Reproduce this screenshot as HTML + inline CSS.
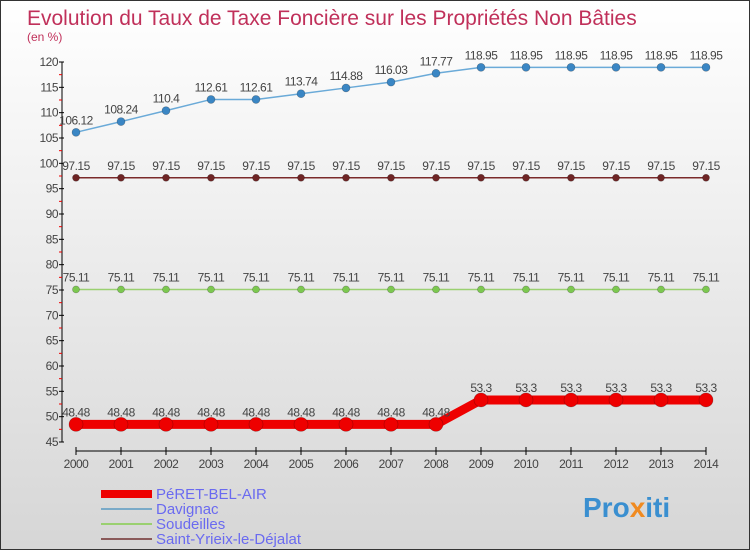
<!DOCTYPE html>
<html><head><meta charset="utf-8"><style>
html,body{margin:0;padding:0}
body{width:750px;height:550px;overflow:hidden;font-family:"Liberation Sans",sans-serif}
#wrap{position:relative;width:748px;height:548px;border:1px solid #333;background:linear-gradient(#ffffff,#d6d6d6)}
svg{position:absolute;left:0;top:0}
</style></head><body>
<div id="wrap">
<svg id="chart" width="750" height="550">
<text x="26" y="24" font-size="21" fill="#c0305a">Evolution du Taux de Taxe Foncière sur les Propriétés Non Bâties</text>
<text x="26" y="40" font-size="12" fill="#c0305a">(en %)</text>
<g id="axes"></g><g id="series"></g><g id="legend"></g>
<text x="582" y="516" font-size="28" font-weight="bold" fill="#3a8fd0">Pro<tspan fill="#f08a20">x</tspan>iti</text>
</svg></div>
<script>
const years=[2000,2001,2002,2003,2004,2005,2006,2007,2008,2009,2010,2011,2012,2013,2014];
const peret=[48.48,48.48,48.48,48.48,48.48,48.48,48.48,48.48,48.48,53.3,53.3,53.3,53.3,53.3,53.3];
const davignac=[106.12,108.24,110.4,112.61,112.61,113.74,114.88,116.03,117.77,118.95,118.95,118.95,118.95,118.95,118.95];
const soudeilles=[75.11,75.11,75.11,75.11,75.11,75.11,75.11,75.11,75.11,75.11,75.11,75.11,75.11,75.11,75.11];
const saint=[97.15,97.15,97.15,97.15,97.15,97.15,97.15,97.15,97.15,97.15,97.15,97.15,97.15,97.15,97.15];
const yTicks=[45,50,55,60,65,70,75,80,85,90,95,100,105,110,115,120];
const seriesNames=["PéRET-BEL-AIR","Davignac","Soudeilles","Saint-Yrieix-le-Déjalat"];
const NS="http://www.w3.org/2000/svg";
const X=i=>75+i*(630/(years.length-1));
const Y=v=>441-(v-45)*(380/75);
function mk(t,a,p){const e=document.createElementNS(NS,t);for(const k in a)e.setAttribute(k,a[k]);p.appendChild(e);return e;}
const ax=document.getElementById('axes');
mk('line',{x1:61,y1:Y(120),x2:61,y2:441,stroke:'#000'},ax);
yTicks.forEach(v=>{
 mk('line',{x1:58,y1:Y(v),x2:63,y2:Y(v),stroke:'#000'},ax);
 if(v<120)mk('line',{x1:58,y1:Y(v+2.5),x2:61,y2:Y(v+2.5),stroke:'#e00'},ax);
 const t=mk('text',{x:57,y:Y(v)+4,'font-size':12,'text-anchor':'end',fill:'#444','letter-spacing':'-0.5'},ax);
 
 
 t.textContent=v;
});
mk('line',{x1:X(0),y1:450,x2:X(years.length-1),y2:450,stroke:'#000'},ax);
years.forEach((y,i)=>{
 mk('line',{x1:X(i),y1:446,x2:X(i),y2:454,stroke:'#000'},ax);
 const t=mk('text',{x:X(i),y:467,'font-size':12,'text-anchor':'middle',fill:'#444','letter-spacing':'-0.5'},ax);
 
 
 t.textContent=y;
});
const sg=document.getElementById('series');
function draw(data,name,color,lw,r,fill){
 const g=mk('g',{},sg);
 
 
 mk('polyline',{points:data.map((v,i)=>X(i)+','+Y(v)).join(' '),fill:'none',stroke:color,'stroke-width':lw},g);
 data.forEach((v,i)=>{
  const c=mk('circle',{cx:X(i),cy:Y(v),r:r,fill:fill,stroke:'rgba(0,0,0,0.3)','stroke-width':0.6},g);
  
  
  const t=mk('text',{x:X(i),y:Y(v)-8,'font-size':12,'text-anchor':'middle',fill:'#444','letter-spacing':'-0.5'},g);
  
  
  t.textContent=v;
 });
}
draw(davignac,'davignac','#6aaad8',1.5,4,'#3a86c4');
draw(saint,'saint-yrieix','#7a2a2a',1.5,3.5,'#6e2424');
draw(soudeilles,'soudeilles','#9ad070',1.5,3.5,'#7cc850');
draw(peret,'peret-bel-air','#ee0000',9,7,'#ee0000');
const lg=document.getElementById('legend');
const lcol=['#ee0000','#7aaac8','#9ad070','#8a5a5a'],lw=[8,2,2,2],ly=[493,508,523,538];
seriesNames.forEach((n,i)=>{
 const g=mk('g',{},lg);
 
 
 mk('line',{x1:100,y1:ly[i],x2:151,y2:ly[i],stroke:lcol[i],'stroke-width':lw[i]},g);
 const t=mk('text',{x:155,y:ly[i]+5,'font-size':15,fill:'#6a6af0'},g);
 t.textContent=n;
});
</script>
</body></html>
